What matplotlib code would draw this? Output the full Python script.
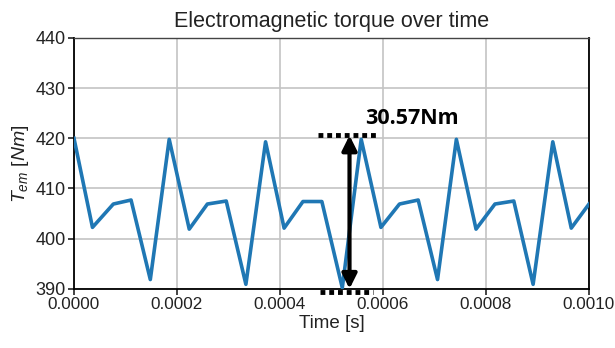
import matplotlib.pyplot as plt

plt.rcParams['font.family'] = ['Liberation Sans', 'DejaVu Sans']
plt.rcParams['mathtext.fontset'] = 'custom'
plt.rcParams['mathtext.it'] = 'Liberation Sans:italic'
plt.rcParams['mathtext.rm'] = 'Liberation Sans'

# torque samples
time = [0.0, 0.0000359, 0.0000764, 0.0001108, 0.0001482, 0.0001849, 0.0002238,
        0.000259, 0.0002956, 0.0003338, 0.000372, 0.000408, 0.0004446, 0.0004813,
        0.000521, 0.0005577, 0.000596, 0.000632, 0.0006684, 0.0007059, 0.0007425,
        0.0007807, 0.0008174, 0.000854, 0.0008915, 0.0009297, 0.0009656, 0.001]
torque = [420.0, 402.25, 406.9, 407.7, 391.85, 419.8, 401.9,
          406.9, 407.5, 390.9, 419.3, 402.1, 407.4, 407.4,
          390.2, 419.8, 402.25, 406.9, 407.7, 391.85, 419.8,
          401.9, 406.9, 407.5, 390.9, 419.3, 402.1, 406.9]

ripple_top = 420.57
ripple_bot = 390.0
ripple_label = '30.57Nm'
arrow_t = 0.000535
xticks = [0.0, 0.0002, 0.0004, 0.0006, 0.0008, 0.0010]
yticks = [390, 400, 410, 420, 430, 440]

fig = plt.figure(figsize=(6.15, 3.48), dpi=100)
ax = fig.add_axes([0.1203, 0.170, 0.8374, 0.721])

ax.plot(time, torque, color='#1f77b4', linewidth=2.6, zorder=3)

ax.set_xlim(0, 0.001)
ax.set_ylim(390, 440)
ax.set_xticks(xticks)
ax.set_xticklabels(['%.4f' % t for t in xticks])
ax.set_yticks(yticks)
ax.grid(True, color='#c4c4c4', linewidth=1.2)
ax.tick_params(labelsize=12.3, colors='#222222', length=4, width=1.2, pad=2)
ax.tick_params(axis='y', labelsize=13)
for side in ['left', 'bottom', 'right']:
    ax.spines[side].set_color('black')
    ax.spines[side].set_linewidth(1.3)
ax.spines['top'].set_color('#444444')
ax.spines['top'].set_linewidth(1.0)

ax.set_title('Electromagnetic torque over time', fontsize=15.5, color='#222222', pad=8)
ax.set_xlabel('Time [s]', fontsize=13.5, color='#222222', labelpad=2)
ax.set_ylabel('$T_{em}$ [$Nm$]', fontsize=14, color='#222222', labelpad=3)

# ripple annotation
ax.plot([0.000474, 0.000588], [ripple_top, ripple_top], color='black',
        linewidth=3.5, linestyle=(0, (1, 0.8)), zorder=4, clip_on=False)
ax.plot([0.000477, 0.000581], [389.3, 389.3], color='black',
        linewidth=3.5, linestyle=(0, (1, 0.8)), zorder=4, clip_on=False)
ax.annotate('', xy=(arrow_t, ripple_bot), xytext=(arrow_t, ripple_top),
            arrowprops=dict(arrowstyle='<|-|>', color='black', lw=3.0,
                            mutation_scale=22, shrinkA=0, shrinkB=0),
            zorder=5)
ax.text(0.000565, 424.0, ripple_label, fontsize=15.5, fontweight='bold',
        family=['Open Sans', 'DejaVu Sans'], color='black', va='center', ha='left')

fig.savefig('out.png', dpi=100)
